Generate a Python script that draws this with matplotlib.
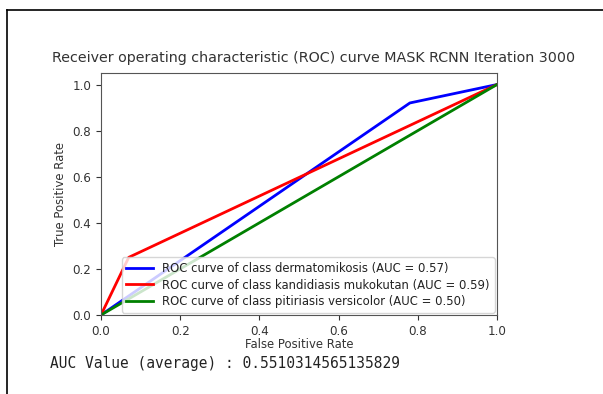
import matplotlib
matplotlib.use("Agg")
import numpy as np
import matplotlib.pyplot as plt
from matplotlib.lines import Line2D

# roc points
class_names = ['dermatomikosis', 'kandidiasis mukokutan', 'pitiriasis versicolor']
class_auc = [0.57, 0.59, 0.50]
fpr_derm = [0.0, 0.78, 1.0]
tpr_derm = [0.0, 0.92, 1.0]
fpr_kand = [0.0, 0.07, 1.0]
tpr_kand = [0.0, 0.25, 1.0]
fpr_piti = [0.0, 1.0]
tpr_piti = [0.0, 1.0]
colors = ['blue', 'red', 'green']
auc_avg_text = 'AUC Value (average) : 0.5510314565135829'

fig = plt.figure(figsize=(6.03, 3.94), dpi=100)
ax = fig.add_axes([101/603., 79/394., 396/603., 242/394.])

curves = [(fpr_derm, tpr_derm), (fpr_kand, tpr_kand), (fpr_piti, tpr_piti)]
for (fpr, tpr), name, auc, c in zip(curves, class_names, class_auc, colors):
    ax.plot(fpr, tpr, color=c, lw=2,
            label='ROC curve of class {0} (AUC = {1:0.2f})'.format(name, auc))

ax.set_xlim([0.0, 1.0])
ax.set_ylim([0.0, 1.05])
ax.set_xticks([0, 0.2, 0.4, 0.6, 0.8, 1.0])
ax.set_yticks([0, 0.2, 0.4, 0.6, 0.8, 1.0])
ax.tick_params(labelsize=8.6, colors='#333333')
for s in ax.spines.values():
    s.set_color('#555555')
ax.set_xlabel('False Positive Rate', fontsize=8.4, color='#333333', labelpad=0)
ax.set_ylabel('True Positive Rate', fontsize=8.4, color='#333333')
ax.legend(loc='lower right', fontsize=8.4, borderaxespad=0.2, labelcolor='#222222',
          handlelength=2.3, handletextpad=0.8, labelspacing=0.3)

fig.text(313.5/603., 1 - 58/394., 'Receiver operating characteristic (ROC) curve MASK RCNN Iteration 3000',
         ha='center', va='center', fontsize=10.3, color='#333333')

fig.text(50/603., 1 - 368/394., auc_avg_text, ha='left', va='baseline',
         family='DejaVu Sans Mono', fontsize=10.45, color='#222222')

# black frame of the screenshot
fig.add_artist(Line2D([7/603., 1.0], [1 - 10/394., 1 - 10/394.], color='black', lw=1.2))
fig.add_artist(Line2D([7/603., 7/603.], [0.0, 1 - 10/394.], color='black', lw=1.2))

plt.savefig('out.png', dpi=100)
